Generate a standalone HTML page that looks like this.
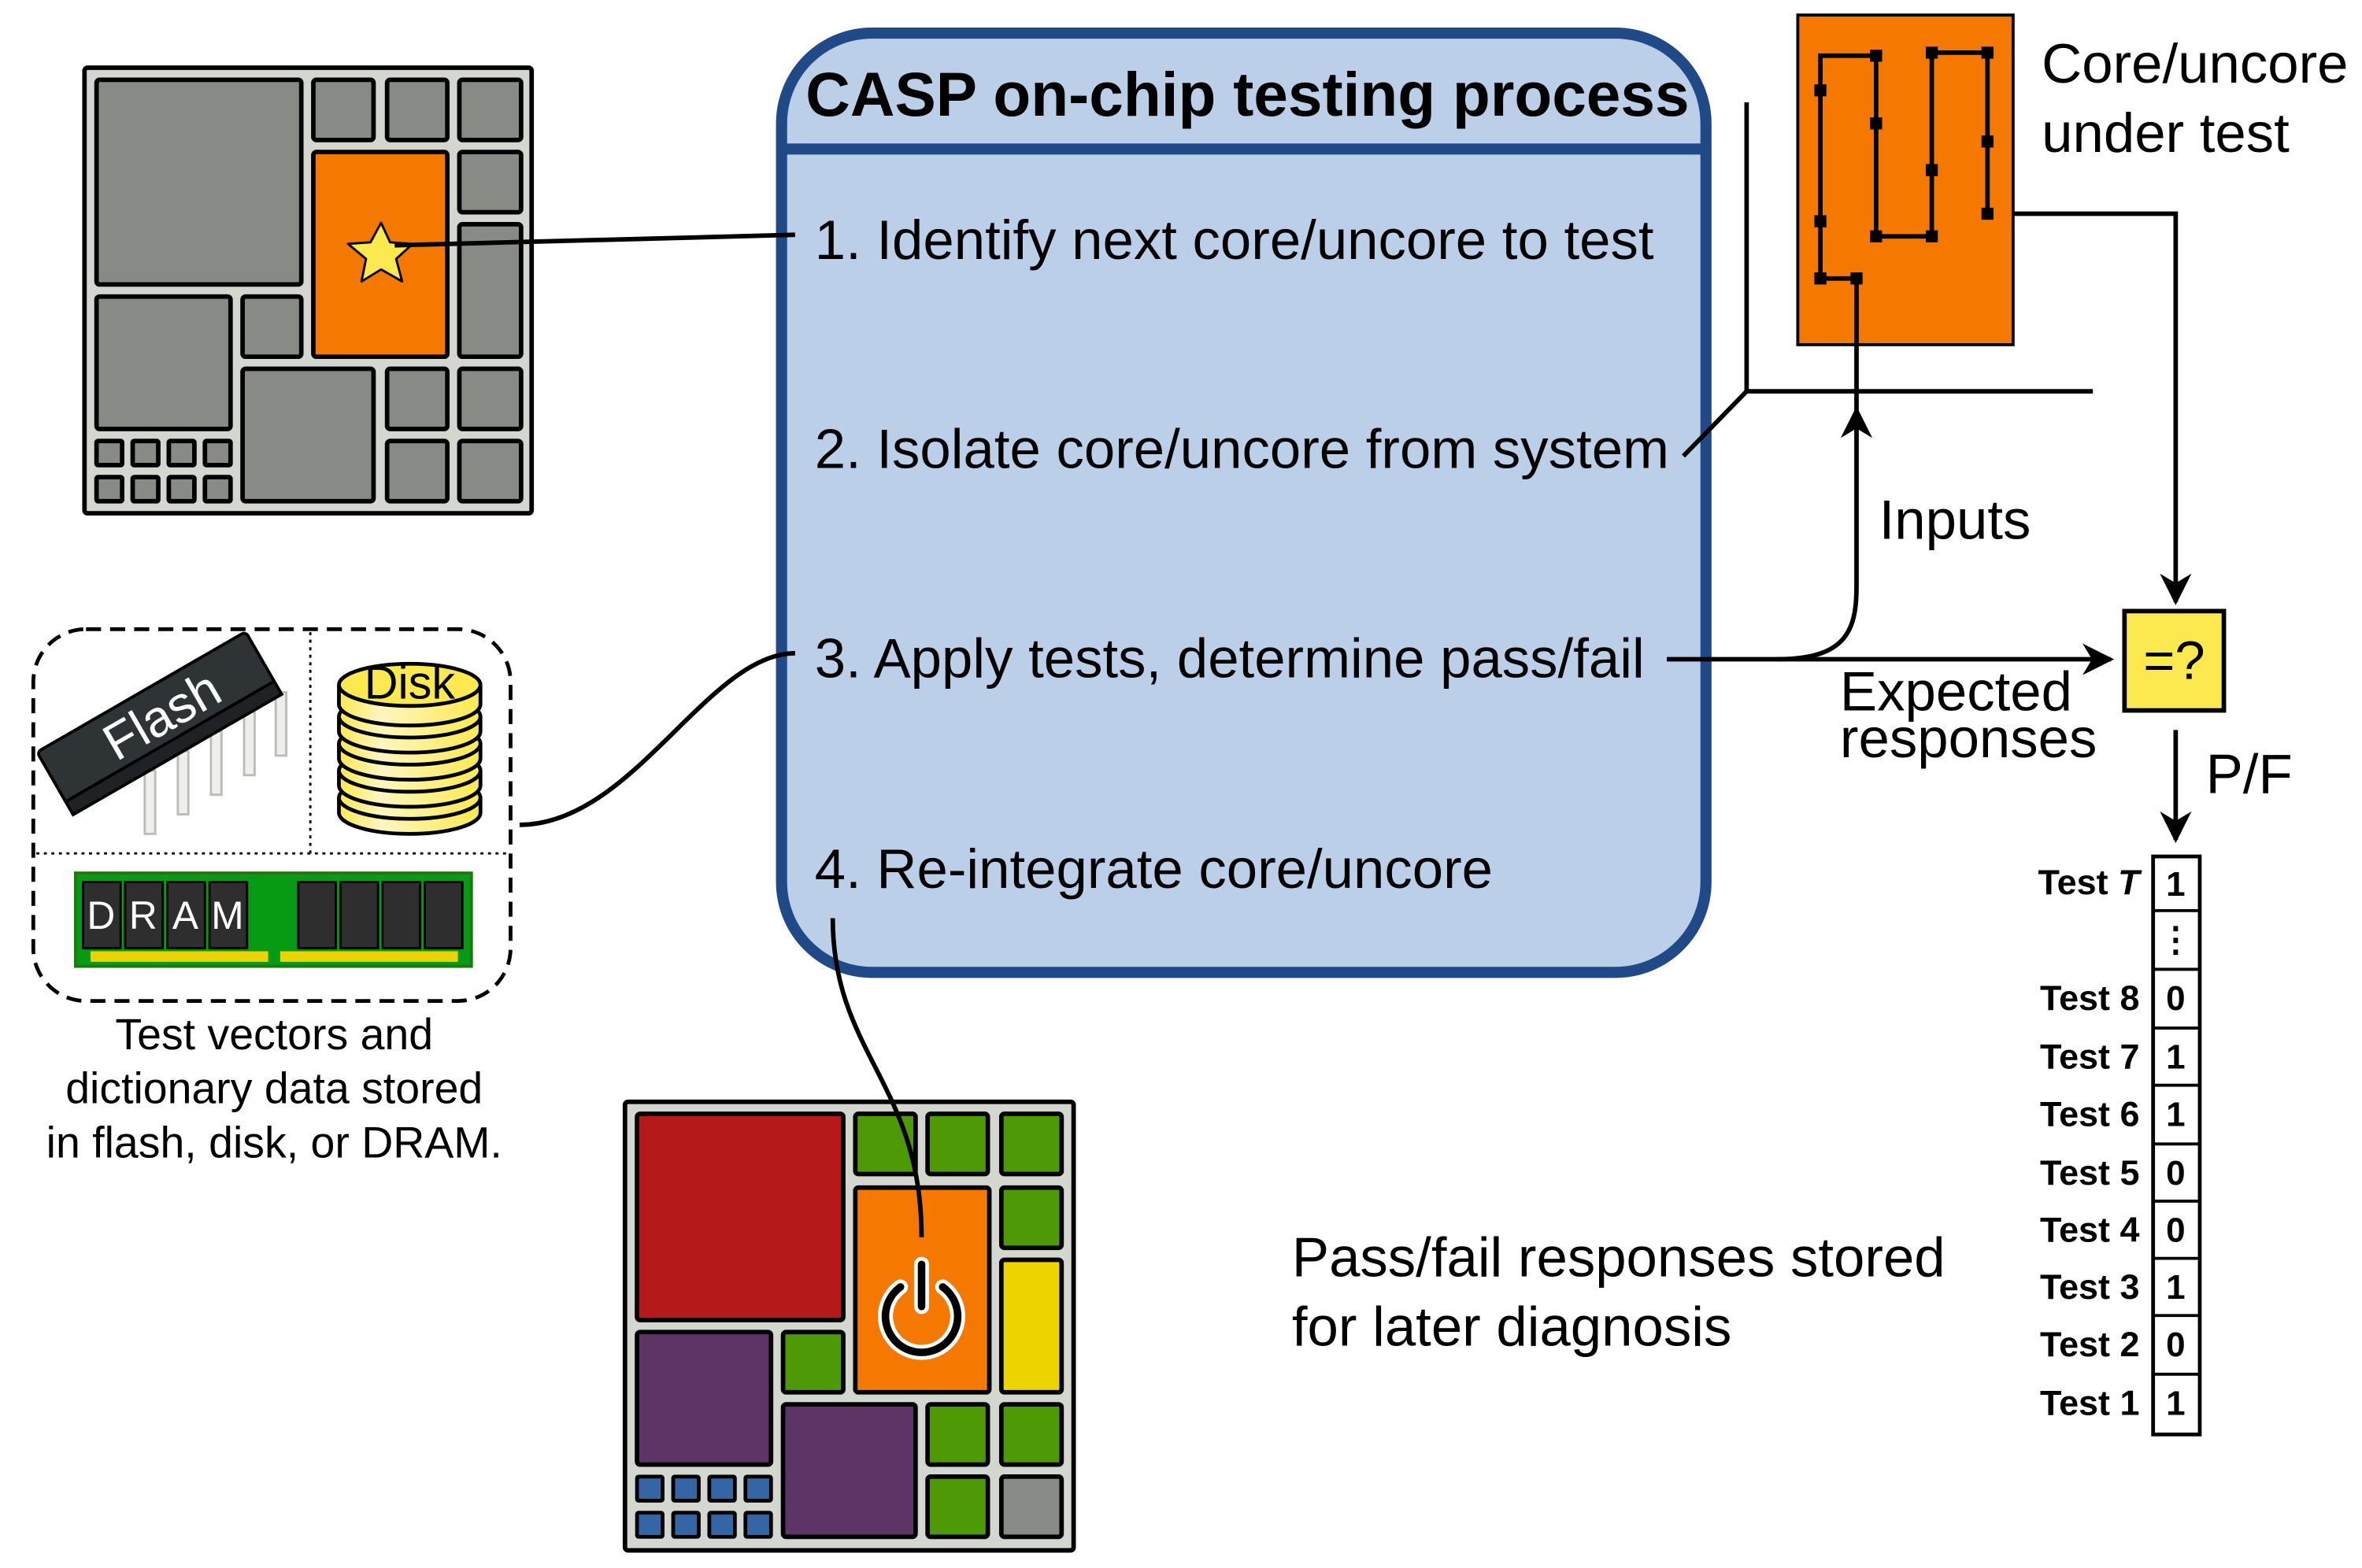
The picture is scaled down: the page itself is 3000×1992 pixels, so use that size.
<!DOCTYPE html>
<html><head><meta charset="utf-8"><style>html,body{margin:0;padding:0;background:#fff}svg{display:block}</style></head>
<body>
<svg width="3000" height="1992" viewBox="0 0 1560 1036" xmlns="http://www.w3.org/2000/svg" font-family="Liberation Sans, sans-serif">
<defs>
<marker id="ah" viewBox="0 0 10 10" refX="9" refY="5" markerWidth="7" markerHeight="7" orient="auto-start-reverse"><path d="M0,0 L10,5 L0,10 L3,5 z" fill="#000"/></marker>
<linearGradient id="dg" x1="0" x2="1"><stop offset="0" stop-color="#fce94f"/><stop offset="0.3" stop-color="#fff6c0"/><stop offset="1" stop-color="#fce94f"/></linearGradient>
</defs>
<rect width="1560" height="1036" fill="#fff"/>
<g transform="scale(0.9945)">

<!-- top-left chip -->
<g stroke="#000" stroke-width="3" stroke-linejoin="round">
<rect x="56" y="45" width="297" height="296" fill="#d3d7cf" rx="2"/>
<g fill="#888a85">
<rect x="64" y="53" width="136" height="136" rx="2"/>
<rect x="208" y="53" width="40" height="40" rx="2"/><rect x="257" y="53" width="40" height="40" rx="2"/><rect x="305" y="53" width="41" height="40" rx="2"/>
<rect x="305" y="101" width="41" height="40" rx="2"/><rect x="305" y="149" width="41" height="88" rx="2"/>
<rect x="64" y="197" width="89" height="88" rx="2"/><rect x="161" y="197" width="39" height="40" rx="2"/>
<rect x="161" y="245" width="87" height="88" rx="2"/>
<rect x="257" y="245" width="40" height="40" rx="2"/><rect x="305" y="245" width="41" height="40" rx="2"/>
<rect x="257" y="293" width="40" height="40" rx="2"/><rect x="305" y="293" width="41" height="40" rx="2"/>
<rect x="64" y="293" width="17" height="16" rx="1"/><rect x="88" y="293" width="17" height="16" rx="1"/><rect x="112" y="293" width="17" height="16" rx="1"/><rect x="136" y="293" width="17" height="16" rx="1"/>
<rect x="64" y="317" width="17" height="16" rx="1"/><rect x="88" y="317" width="17" height="16" rx="1"/><rect x="112" y="317" width="17" height="16" rx="1"/><rect x="136" y="317" width="17" height="16" rx="1"/>
</g>
<rect x="208" y="101" width="89" height="136" fill="#f57900" rx="2"/>
<polygon points="253,148 259,161 274,162 263,172 267,187 253,179 240,187 243,172 231,162 246,161" fill="#fce94f" stroke-width="1.5"/>
</g>

<!-- bottom chip -->
<g stroke="#000" stroke-width="3" stroke-linejoin="round">
<rect x="415" y="732" width="298" height="298" fill="#d3d7cf" rx="2"/>
<rect x="423" y="740" width="137" height="137" fill="#b5191a" rx="2"/>
<g fill="#4e9a06">
<rect x="568" y="740" width="40" height="40" rx="2"/><rect x="616" y="740" width="40" height="40" rx="2"/><rect x="665" y="740" width="40" height="40" rx="2"/>
<rect x="665" y="789" width="40" height="40" rx="2"/><rect x="520" y="885" width="40" height="40" rx="2"/>
<rect x="616" y="933" width="40" height="40" rx="2"/><rect x="665" y="933" width="40" height="40" rx="2"/><rect x="616" y="981" width="40" height="40" rx="2"/>
</g>
<rect x="665" y="981" width="40" height="40" fill="#888a85" rx="2"/>
<rect x="665" y="837" width="40" height="88" fill="#edd400" rx="2"/>
<rect x="568" y="789" width="89" height="136" fill="#f57900" rx="2"/>
<rect x="423" y="885" width="89" height="88" fill="#5c3566" rx="2"/>
<rect x="520" y="933" width="88" height="88" fill="#5c3566" rx="2"/>
<g fill="#3465a4" stroke-width="2.5">
<rect x="423" y="981" width="17" height="16" rx="1"/><rect x="447" y="981" width="17" height="16" rx="1"/><rect x="471" y="981" width="17" height="16" rx="1"/><rect x="495" y="981" width="17" height="16" rx="1"/>
<rect x="423" y="1005" width="17" height="16" rx="1"/><rect x="447" y="1005" width="17" height="16" rx="1"/><rect x="471" y="1005" width="17" height="16" rx="1"/><rect x="495" y="1005" width="17" height="16" rx="1"/>
</g>
</g>
<g fill="none" stroke-linecap="round">
<path d="M598,855 A24,24 0 1 0 626,855" stroke="#fff" stroke-width="10"/>
<line x1="612" y1="840" x2="612" y2="868" stroke="#fff" stroke-width="10"/>
<path d="M598,855 A24,24 0 1 0 626,855" stroke="#000" stroke-width="5"/>
<line x1="612" y1="840" x2="612" y2="868" stroke="#000" stroke-width="5"/>
</g>

<!-- main box -->
<rect x="519" y="22" width="614" height="624" rx="60" fill="#bbd0e8" stroke="#204a87" stroke-width="7.4"/>
<line x1="521" y1="99" x2="1131" y2="99" stroke="#204a87" stroke-width="7.4"/>
<text x="535" y="77" font-size="41" font-weight="bold">CASP on-chip testing process</text>
<g font-size="37">
<text x="541" y="172">1. Identify next core/uncore to test</text>
<text x="541" y="311">2. Isolate core/uncore from system</text>
<text x="541" y="450">3. Apply tests, determine pass/fail</text>
<text x="541" y="590">4. Re-integrate core/uncore</text>
</g>

<!-- connectors -->
<g fill="none" stroke="#000" stroke-width="3">
<path d="M262,163 L528,156"/>
<path d="M345,548 C420,548 470,434 528,434"/>
<path d="M553,610 C553,700 612,720 612,822"/>
<path d="M1160,68 L1160,260 L1390,260"/>
<path d="M1118,303 L1160,260"/>
<path d="M1107,438 L1402,438" marker-end="url(#ah)"/>
<path d="M1180,438 C1225,438 1233,420 1233,390 L1233,272" marker-end="url(#ah)"/>
<path d="M1320,142 L1445,142 L1445,400" marker-end="url(#ah)"/>
<path d="M1445,485 L1445,558" marker-end="url(#ah)"/>
</g>

<!-- core under test -->
<rect x="1194" y="10" width="143" height="219" fill="#f57900" stroke="#000" stroke-width="2"/>
<g fill="none" stroke="#000" stroke-width="3">
<path d="M1233,272 L1233,185 L1209,185 L1209,37 L1246,37 L1246,157 L1283,157 L1283,35 L1320,35 L1320,142"/>
</g>
<g fill="#000">
<rect x="1205" y="181" width="8" height="8"/><rect x="1229" y="181" width="8" height="8"/>
<rect x="1205" y="143" width="8" height="8"/><rect x="1205" y="56" width="8" height="8"/>
<rect x="1242" y="33" width="8" height="8"/><rect x="1242" y="78" width="8" height="8"/><rect x="1242" y="153" width="8" height="8"/>
<rect x="1279" y="153" width="8" height="8"/><rect x="1279" y="109" width="8" height="8"/><rect x="1279" y="31" width="8" height="8"/>
<rect x="1316" y="31" width="8" height="8"/><rect x="1316" y="90" width="8" height="8"/><rect x="1316" y="138" width="8" height="8"/>
</g>
<g font-size="37">
<text x="1356" y="55">Core/uncore</text>
<text x="1356" y="101">under test</text>
<text x="1248" y="358">Inputs</text>
<text x="1222" y="472">Expected</text>
<text x="1222" y="503">responses</text>
<text x="1465" y="527">P/F</text>
<text x="858" y="848">Pass/fail responses stored</text>
<text x="858" y="894">for later diagnosis</text>
</g>
<rect x="1411" y="406" width="66" height="66" fill="#fce94f" stroke="#000" stroke-width="3"/>
<text x="1444" y="451" font-size="36" text-anchor="middle">=?</text>

<!-- result table -->
<rect x="1430" y="569" width="31" height="384" stroke="#000" stroke-width="2.5" fill="#fff"/>
<g stroke="#000" stroke-width="2">
<line x1="1430" y1="605" x2="1461" y2="605"/><line x1="1430" y1="644" x2="1461" y2="644"/>
<line x1="1430" y1="683" x2="1461" y2="683"/><line x1="1430" y1="721" x2="1461" y2="721"/>
<line x1="1430" y1="760" x2="1461" y2="760"/><line x1="1430" y1="798" x2="1461" y2="798"/>
<line x1="1430" y1="836" x2="1461" y2="836"/><line x1="1430" y1="874" x2="1461" y2="874"/>
<line x1="1430" y1="913" x2="1461" y2="913"/>
</g>
<g font-size="23" font-weight="bold" text-anchor="middle">
<text x="1445" y="595">1</text><text x="1445" y="632">⋮</text><text x="1445" y="671">0</text>
<text x="1445" y="710">1</text><text x="1445" y="748">1</text><text x="1445" y="787">0</text>
<text x="1445" y="825">0</text><text x="1445" y="863">1</text><text x="1445" y="901">0</text><text x="1445" y="940">1</text>
</g>
<g font-size="23.5" font-weight="bold" text-anchor="end">
<text x="1421" y="594">Test <tspan font-style="italic">T</tspan></text>
<text x="1421" y="671">Test 8</text><text x="1421" y="710">Test 7</text><text x="1421" y="748">Test 6</text>
<text x="1421" y="787">Test 5</text><text x="1421" y="825">Test 4</text><text x="1421" y="863">Test 3</text>
<text x="1421" y="901">Test 2</text><text x="1421" y="940">Test 1</text>
</g>

<!-- storage box -->
<rect x="22" y="418" width="317" height="247" rx="35" fill="#fff" stroke="#000" stroke-width="2.5" stroke-dasharray="10,6"/>
<line x1="206" y1="420" x2="206" y2="567" stroke="#000" stroke-width="1.5" stroke-dasharray="2,3"/>
<line x1="24" y1="567" x2="337" y2="567" stroke="#000" stroke-width="1.5" stroke-dasharray="2,3"/>
<!-- flash pins -->
<g fill="#eeeeec" stroke="#babdb6" stroke-width="1.5">
<rect x="96" y="512" width="7" height="42"/><rect x="118" y="499" width="7" height="42"/><rect x="140" y="486" width="7" height="42"/><rect x="162" y="473" width="7" height="42"/><rect x="183" y="460" width="7" height="42"/>
</g>
<g transform="translate(102,478) rotate(-30)">
<rect x="-78" y="-20" width="160" height="40" rx="3" fill="#2e3436" stroke="#000" stroke-width="2"/>
<rect x="-78" y="18" width="160" height="10" fill="#1e2224" stroke="#000" stroke-width="2"/>
<text x="6" y="12" font-size="34" fill="#fff" text-anchor="middle">Flash</text>
</g>
<!-- disk -->
<g stroke="#000" stroke-width="2.5" fill="url(#dg)">
<path d="M225,530 L225,540 A47,14 0 0 0 319,540 L319,530"/>
<ellipse cx="272" cy="530" rx="47" ry="14"/>
<path d="M225,512 L225,522 A47,14 0 0 0 319,522 L319,512" />
<ellipse cx="272" cy="512" rx="47" ry="14"/>
<path d="M225,494 L225,504 A47,14 0 0 0 319,504 L319,494"/>
<ellipse cx="272" cy="494" rx="47" ry="14"/>
<path d="M225,476 L225,486 A47,14 0 0 0 319,486 L319,476"/>
<ellipse cx="272" cy="476" rx="47" ry="14"/>
<path d="M225,455 L225,468 A47,14 0 0 0 319,468 L319,455"/>
<ellipse cx="272" cy="455" rx="47" ry="14" fill="#fce94f"/>
</g>
<text x="272" y="464" font-size="31" text-anchor="middle">Disk</text>
<!-- dram -->
<rect x="50" y="580" width="263" height="62" fill="#079a14" stroke="#1a7a10" stroke-width="2"/>
<rect x="60" y="632" width="118" height="7" fill="#edd400"/><rect x="186" y="632" width="118" height="7" fill="#edd400"/>
<g fill="#2e2e2e" stroke="#000" stroke-width="1.5">
<rect x="55" y="586" width="25" height="44"/><rect x="83" y="586" width="25" height="44"/><rect x="111" y="586" width="25" height="44"/><rect x="139" y="586" width="25" height="44"/>
<rect x="198" y="586" width="25" height="44"/><rect x="226" y="586" width="25" height="44"/><rect x="254" y="586" width="25" height="44"/><rect x="282" y="586" width="25" height="44"/>
</g>
<g font-size="26" fill="#fff" text-anchor="middle">
<text x="67" y="617">D</text><text x="95" y="617">R</text><text x="123" y="617">A</text><text x="151" y="617">M</text>
</g>
<g font-size="29" text-anchor="middle">
<text x="182" y="697">Test vectors and</text>
<text x="182" y="733">dictionary data stored</text>
<text x="182" y="769">in flash, disk, or DRAM.</text>
</g>
</g>
</svg>
</body></html>
